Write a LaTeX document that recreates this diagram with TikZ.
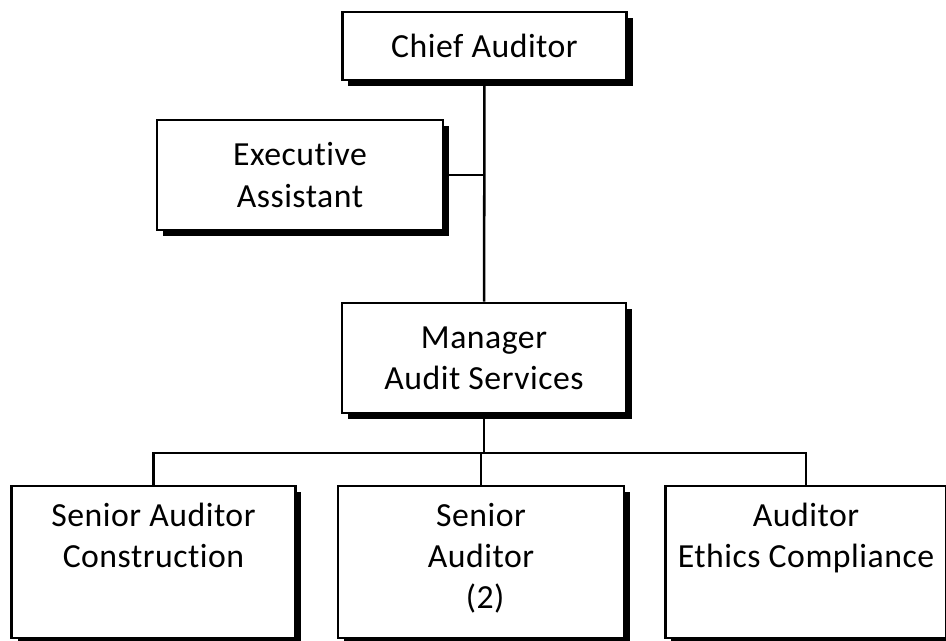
\documentclass[tikz,border=0pt]{standalone}
\usepackage{fontspec}
\setmainfont{Carlito}[Ligatures=NoCommon,LetterSpace=1.5]
\usetikzlibrary{shadows}
\begin{document}
\begin{tikzpicture}[x=0.75pt,y=-0.75pt,line join=miter,font=\fontsize{25.3}{31}\selectfont,
	box/.style={draw,line width=2.2pt,fill=white,align=center,inner sep=0pt,
		drop shadow={shadow xshift=4.5pt,shadow yshift=-4.5pt,opacity=1,fill=black}},
	link/.style={line width=1.9pt}]
	\useasboundingbox (0,0) rectangle (946,641);
	\node[box,minimum width=213.5pt,minimum height=51pt] (chief) at (484.5,46) {Chief Auditor};
	\node[box,minimum width=214.5pt,minimum height=82.5pt] (exec) at (300,175) {Executive\\Assistant};
	\node[box,minimum width=213pt,minimum height=82.5pt] (manager) at (484,358) {Manager\\Audit Services};
	\node[box,minimum width=212.5pt,minimum height=114pt] (senior) at (153.5,562) {Senior Auditor\\Construction\\\strut};
	\node[box,minimum width=214.5pt,minimum height=114pt] (seniortwo) at (481,562) {Senior\\Auditor\\\ (2)\strut};
	\node[box,minimum width=211pt,minimum height=114pt] (ethics) at (806,562) {Auditor\\Ethics Compliance\\\strut};
	\coordinate (bus) at (484,453);
	\draw[link] (chief) -- (manager);
	\draw[link] (exec.east) -- (exec.east -| chief);
	\draw[link] (manager) -- (bus);
	\draw[link] (senior) |- (bus) -| (ethics);
	\draw[link] (seniortwo) -- (seniortwo |- bus);
\end{tikzpicture}
\end{document}
